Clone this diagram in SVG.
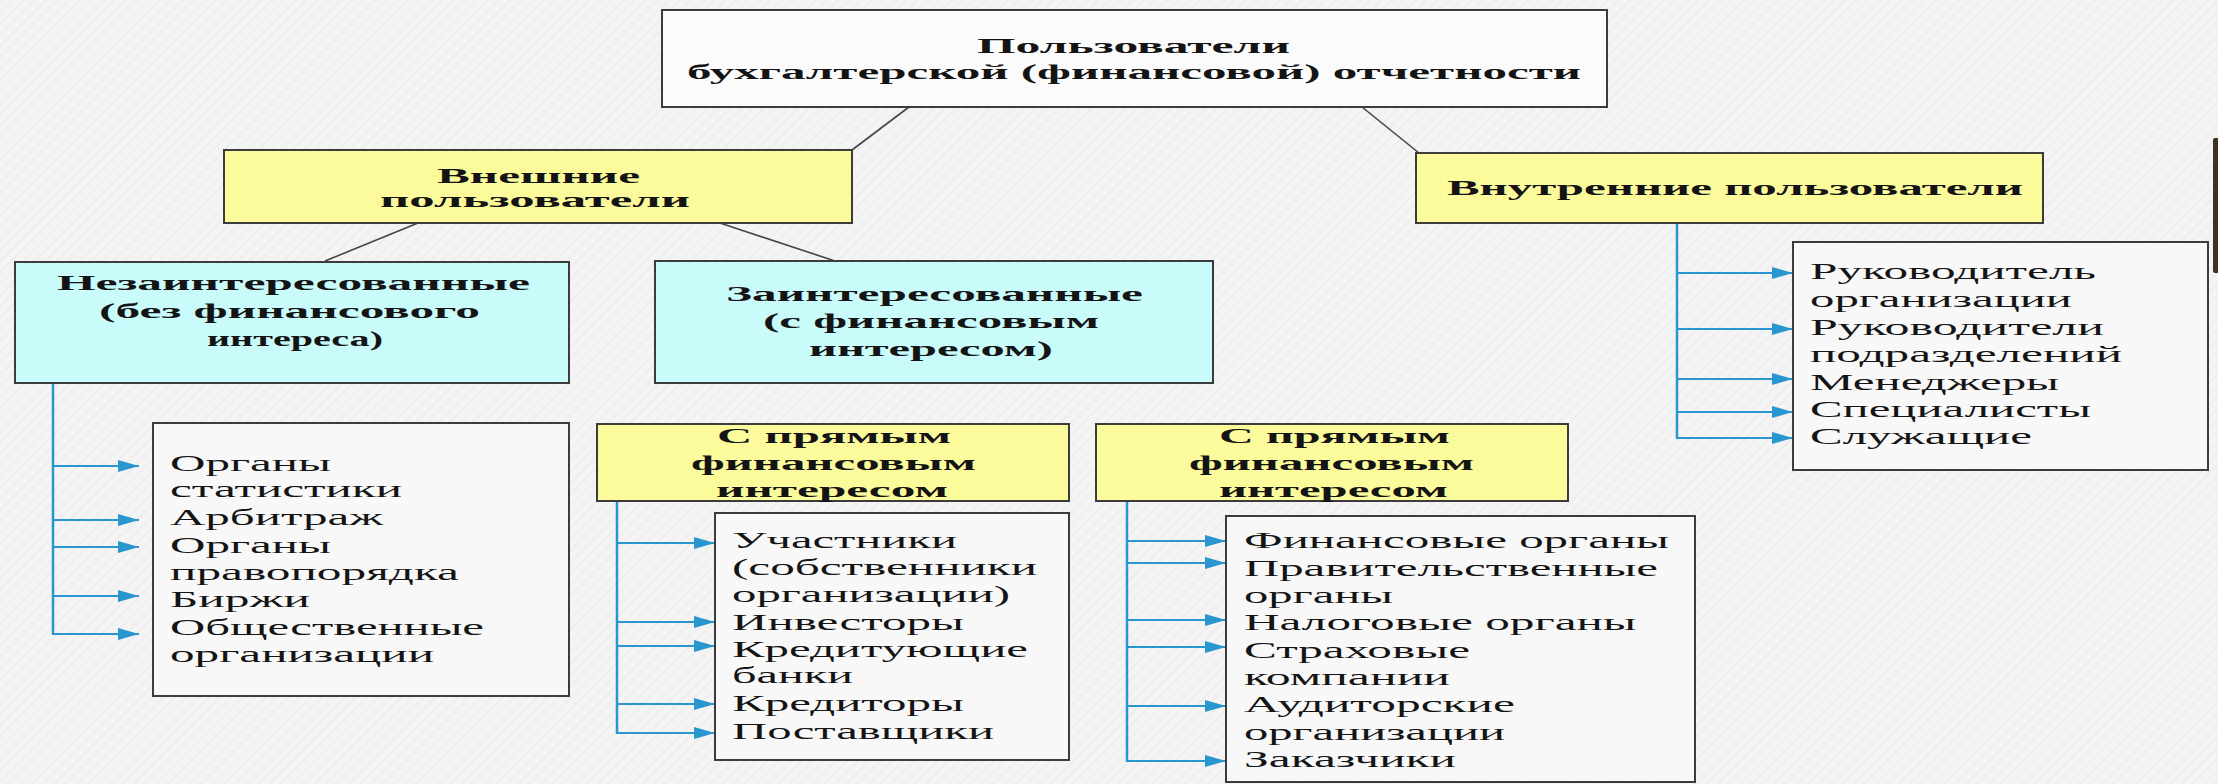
<svg xmlns="http://www.w3.org/2000/svg" width="2218" height="784" viewBox="0 0 2218 784">
<defs>
<pattern id="bgp" width="8" height="8" patternUnits="userSpaceOnUse" patternTransform="rotate(45)">
<rect width="8" height="8" fill="#f4f4f4"/>
<line x1="0" y1="0" x2="0" y2="8" stroke="#ececec" stroke-width="3"/>
</pattern>
<marker id="arr" markerUnits="userSpaceOnUse" markerWidth="21" markerHeight="12" refX="21" refY="6" orient="auto">
<path d="M0,0 L21,6 L0,12 z" fill="#2a96cf"/>
</marker>
<style>
.box{stroke:#3c3c3c;stroke-width:2}
.top{fill:#fbfbfb}
.yel{fill:#fbfb9c}
.cyan{fill:#c9fbfb}
.lst{fill:#f8f8f8}
.b{font-family:"Liberation Serif","Times New Roman",serif;font-weight:bold;font-size:22px;fill:#141414}
.r{font-family:"Liberation Serif","Times New Roman",serif;font-size:23px;fill:#141414}
.k{stroke:#454545;stroke-width:1.6;fill:none}
.bl{stroke:#2a96cf;stroke-width:2;fill:none}
.bv{stroke:#2a96cf;stroke-width:2.5;fill:none}
</style>
</defs>
<rect width="2218" height="784" fill="url(#bgp)"/>
<rect x="2213" y="138" width="6" height="135" rx="2" fill="#3b3222"/>

<g id="connectors">
<line class="k" x1="909" y1="107" x2="852" y2="150"/>
<line class="k" x1="1362" y1="107" x2="1419" y2="153"/>
<line class="k" x1="418" y1="223" x2="325" y2="261"/>
<line class="k" x1="720" y1="223" x2="835" y2="261"/>

<line class="bv" x1="53" y1="383" x2="53" y2="635"/>
<g class="bl" marker-end="url(#arr)">
<line x1="53" y1="466" x2="139" y2="466"/>
<line x1="53" y1="520" x2="139" y2="520"/>
<line x1="53" y1="547" x2="139" y2="547"/>
<line x1="53" y1="596" x2="139" y2="596"/>
<line x1="53" y1="634" x2="139" y2="634"/>
</g>

<line class="bv" x1="617" y1="501" x2="617" y2="734"/>
<g class="bl" marker-end="url(#arr)">
<line x1="617" y1="543" x2="715" y2="543"/>
<line x1="617" y1="622" x2="715" y2="622"/>
<line x1="617" y1="646" x2="715" y2="646"/>
<line x1="617" y1="704" x2="715" y2="704"/>
<line x1="617" y1="733" x2="715" y2="733"/>
</g>

<line class="bv" x1="1127" y1="501" x2="1127" y2="762"/>
<g class="bl" marker-end="url(#arr)">
<line x1="1127" y1="541" x2="1226" y2="541"/>
<line x1="1127" y1="563" x2="1226" y2="563"/>
<line x1="1127" y1="620" x2="1226" y2="620"/>
<line x1="1127" y1="647" x2="1226" y2="647"/>
<line x1="1127" y1="706" x2="1226" y2="706"/>
<line x1="1127" y1="761" x2="1226" y2="761"/>
</g>

<line class="bv" x1="1677" y1="223" x2="1677" y2="439"/>
<g class="bl" marker-end="url(#arr)">
<line x1="1677" y1="273" x2="1793" y2="273"/>
<line x1="1677" y1="329" x2="1793" y2="329"/>
<line x1="1677" y1="379" x2="1793" y2="379"/>
<line x1="1677" y1="412" x2="1793" y2="412"/>
<line x1="1677" y1="438" x2="1793" y2="438"/>
</g>
</g>

<g id="n-root">
<rect class="box top" x="662" y="10" width="945" height="97"/>
<text class="b" x="977" y="53" textLength="313" lengthAdjust="spacingAndGlyphs">Пользователи</text>
<text class="b" x="687" y="79" textLength="894" lengthAdjust="spacingAndGlyphs">бухгалтерской (финансовой) отчетности</text>
</g>

<g id="n-external">
<rect class="box yel" x="224" y="150" width="628" height="73"/>
<text class="b" x="437" y="183" textLength="203" lengthAdjust="spacingAndGlyphs">Внешние</text>
<text class="b" x="380" y="207" textLength="310" lengthAdjust="spacingAndGlyphs">пользователи</text>
</g>

<g id="n-internal">
<rect class="box yel" x="1416" y="153" width="627" height="70"/>
<text class="b" x="1447" y="195" textLength="576" lengthAdjust="spacingAndGlyphs">Внутренние пользователи</text>
</g>

<g id="n-uninterested">
<rect class="box cyan" x="15" y="262" width="554" height="121"/>
<text class="b" x="57" y="290" textLength="473" lengthAdjust="spacingAndGlyphs">Незаинтересованные</text>
<text class="b" x="99" y="318" textLength="381" lengthAdjust="spacingAndGlyphs">(без финансового</text>
<text class="b" x="207" y="346" textLength="176" lengthAdjust="spacingAndGlyphs">интереса)</text>
</g>

<g id="n-interested">
<rect class="box cyan" x="655" y="261" width="558" height="122"/>
<text class="b" x="726" y="301" textLength="417" lengthAdjust="spacingAndGlyphs">Заинтересованные</text>
<text class="b" x="763" y="328" textLength="336" lengthAdjust="spacingAndGlyphs">(с финансовым</text>
<text class="b" x="809" y="356" textLength="244" lengthAdjust="spacingAndGlyphs">интересом)</text>
</g>

<g id="n-direct1">
<rect class="box yel" x="597" y="424" width="472" height="77"/>
<text class="b" x="717" y="443" textLength="234" lengthAdjust="spacingAndGlyphs">С прямым</text>
<text class="b" x="691" y="470" textLength="285" lengthAdjust="spacingAndGlyphs">финансовым</text>
<text class="b" x="716" y="497" textLength="232" lengthAdjust="spacingAndGlyphs">интересом</text>
</g>

<g id="n-direct2">
<rect class="box yel" x="1096" y="424" width="472" height="77"/>
<text class="b" x="1219" y="443" textLength="231" lengthAdjust="spacingAndGlyphs">С прямым</text>
<text class="b" x="1189" y="470" textLength="285" lengthAdjust="spacingAndGlyphs">финансовым</text>
<text class="b" x="1219" y="497" textLength="229" lengthAdjust="spacingAndGlyphs">интересом</text>
</g>

<g id="n-list-uninterested">
<rect class="box lst" x="153" y="423" width="416" height="273"/>
<text class="r" x="170" y="471" textLength="161" lengthAdjust="spacingAndGlyphs">Органы</text>
<text class="r" x="170" y="497" textLength="232" lengthAdjust="spacingAndGlyphs">статистики</text>
<text class="r" x="170" y="525" textLength="213" lengthAdjust="spacingAndGlyphs">Арбитраж</text>
<text class="r" x="170" y="553" textLength="161" lengthAdjust="spacingAndGlyphs">Органы</text>
<text class="r" x="170" y="580" textLength="289" lengthAdjust="spacingAndGlyphs">правопорядка</text>
<text class="r" x="170" y="607" textLength="140" lengthAdjust="spacingAndGlyphs">Биржи</text>
<text class="r" x="170" y="635" textLength="314" lengthAdjust="spacingAndGlyphs">Общественные</text>
<text class="r" x="170" y="662" textLength="264" lengthAdjust="spacingAndGlyphs">организации</text>
</g>

<g id="n-list-direct1">
<rect class="box lst" x="715" y="513" width="354" height="247"/>
<text class="r" x="732" y="548" textLength="225" lengthAdjust="spacingAndGlyphs">Участники</text>
<text class="r" x="732" y="575" textLength="305" lengthAdjust="spacingAndGlyphs">(собственники</text>
<text class="r" x="732" y="602" textLength="278" lengthAdjust="spacingAndGlyphs">организации)</text>
<text class="r" x="732" y="630" textLength="232" lengthAdjust="spacingAndGlyphs">Инвесторы</text>
<text class="r" x="732" y="657" textLength="296" lengthAdjust="spacingAndGlyphs">Кредитующие</text>
<text class="r" x="732" y="683" textLength="121" lengthAdjust="spacingAndGlyphs">банки</text>
<text class="r" x="732" y="711" textLength="232" lengthAdjust="spacingAndGlyphs">Кредиторы</text>
<text class="r" x="732" y="739" textLength="262" lengthAdjust="spacingAndGlyphs">Поставщики</text>
</g>

<g id="n-list-direct2">
<rect class="box lst" x="1226" y="516" width="469" height="266"/>
<text class="r" x="1244" y="548" textLength="425" lengthAdjust="spacingAndGlyphs">Финансовые органы</text>
<text class="r" x="1244" y="576" textLength="414" lengthAdjust="spacingAndGlyphs">Правительственные</text>
<text class="r" x="1244" y="603" textLength="149" lengthAdjust="spacingAndGlyphs">органы</text>
<text class="r" x="1244" y="630" textLength="392" lengthAdjust="spacingAndGlyphs">Налоговые органы</text>
<text class="r" x="1244" y="658" textLength="226" lengthAdjust="spacingAndGlyphs">Страховые</text>
<text class="r" x="1244" y="685" textLength="206" lengthAdjust="spacingAndGlyphs">компании</text>
<text class="r" x="1244" y="712" textLength="271" lengthAdjust="spacingAndGlyphs">Аудиторские</text>
<text class="r" x="1244" y="740" textLength="261" lengthAdjust="spacingAndGlyphs">организации</text>
<text class="r" x="1244" y="767" textLength="212" lengthAdjust="spacingAndGlyphs">Заказчики</text>
</g>

<g id="n-list-internal">
<rect class="box lst" x="1793" y="242" width="415" height="228"/>
<text class="r" x="1810" y="279" textLength="286" lengthAdjust="spacingAndGlyphs">Руководитель</text>
<text class="r" x="1810" y="307" textLength="262" lengthAdjust="spacingAndGlyphs">организации</text>
<text class="r" x="1810" y="335" textLength="294" lengthAdjust="spacingAndGlyphs">Руководители</text>
<text class="r" x="1810" y="362" textLength="312" lengthAdjust="spacingAndGlyphs">подразделений</text>
<text class="r" x="1810" y="390" textLength="249" lengthAdjust="spacingAndGlyphs">Менеджеры</text>
<text class="r" x="1810" y="417" textLength="281" lengthAdjust="spacingAndGlyphs">Специалисты</text>
<text class="r" x="1810" y="444" textLength="222" lengthAdjust="spacingAndGlyphs">Служащие</text>
</g>
</svg>
